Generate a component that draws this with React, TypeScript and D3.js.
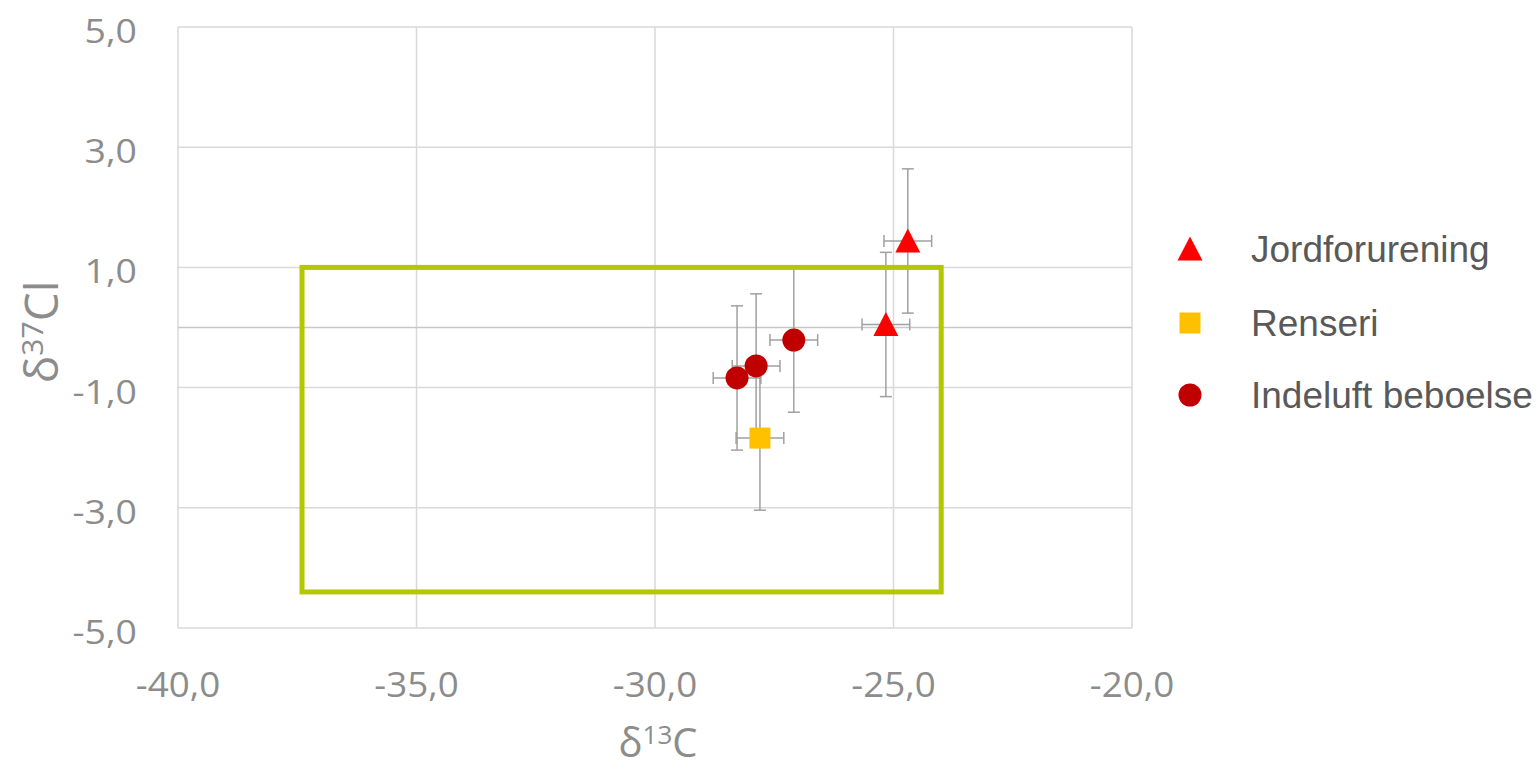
import React from 'react';
import * as d3 from 'd3';

// values
const seriesNames = ['Jordforurening', 'Renseri', 'Indeluft beboelse'];
const jordX = [-24.7, -25.16];
const jordY = [1.44, 0.05];
const renseriX = [-27.8];
const renseriY = [-1.84];
const indeluftX = [-28.28, -27.88, -27.09];
const indeluftY = [-0.84, -0.64, -0.21];
const errX = 0.5;
const errY = 1.2;
const xTicks = [-40, -35, -30, -25, -20];
const yTicks = [5, 3, 1, -1, -3, -5];
const boxX = [-37.4, -24.0];
const boxY = [1.0, -4.4];

const W = 1538;
const H = 772;

const locale = d3.formatLocale({
  decimal: ',',
  thousands: '.',
  grouping: [3],
  currency: ['', ''],
  minus: '-',
});
const fmt = locale.format('.1f');

const x = d3.scaleLinear().domain([-40, -20]).range([178, 1132]);
const y = d3.scaleLinear().domain([-5, 5]).range([628, 27]);

const gridColor = '#d9d9d9';
const axisText = '#8c8c8c';
const errColor = '#a0a0a0';

const triPath = 'M0,-12.5 L12.5,11.5 L-12.5,11.5 Z';

type Pt = { x: number; y: number };

const zip = (xs: number[], ys: number[]): Pt[] => xs.map((v, i) => ({ x: v, y: ys[i] }));

const series = [
  { name: seriesNames[0], pts: zip(jordX, jordY), color: '#ff0000', shape: 'tri' },
  { name: seriesNames[1], pts: zip(renseriX, renseriY), color: '#ffc000', shape: 'sq' },
  { name: seriesNames[2], pts: zip(indeluftX, indeluftY), color: '#c00000', shape: 'circ' },
];

const Marker = ({ shape, color, cx, cy }: { shape: string; color: string; cx: number; cy: number }) => {
  if (shape === 'tri') return <path d={triPath} transform={`translate(${cx},${cy})`} fill={color} />;
  if (shape === 'sq') return <rect x={cx - 10.5} y={cy - 10.5} width={21} height={21} fill={color} />;
  return <circle cx={cx} cy={cy} r={11.5} fill={color} />;
};

const ErrorBars = ({ p }: { p: Pt }) => {
  const cx = x(p.x);
  const cy = y(p.y);
  const x0 = x(p.x - errX);
  const x1 = x(p.x + errX);
  const y0 = y(p.y + errY);
  const y1 = y(p.y - errY);
  const c = 6;
  return (
    <g stroke={errColor} strokeWidth={1.5} fill="none">
      <line x1={x0} x2={x1} y1={cy} y2={cy} />
      <line x1={x0} x2={x0} y1={cy - c} y2={cy + c} />
      <line x1={x1} x2={x1} y1={cy - c} y2={cy + c} />
      <line x1={cx} x2={cx} y1={y0} y2={y1} />
      <line x1={cx - c} x2={cx + c} y1={y0} y2={y0} />
      <line x1={cx - c} x2={cx + c} y1={y1} y2={y1} />
    </g>
  );
};

export default function App() {
  const legendY = [249, 323, 395];
  return (
    <svg
      width={W}
      height={H}
      style={{ position: 'absolute', left: 0, top: 0, background: '#fff' }}
    >
      {/* grid */}
      <g stroke={gridColor} strokeWidth={1.5}>
        {xTicks.map((t) => (
          <line key={'gx' + t} x1={x(t)} x2={x(t)} y1={y(5)} y2={y(-5)} />
        ))}
        {yTicks.map((t) => (
          <line key={'gy' + t} x1={x(-40)} x2={x(-20)} y1={y(t)} y2={y(t)} />
        ))}
      </g>
      <line x1={x(-40)} x2={x(-20)} y1={y(0)} y2={y(0)} stroke="#c8c8c8" strokeWidth={1.5} />

      {/* tick labels */}
      <g fill={axisText} fontFamily="'Open Sans', sans-serif" fontSize={32}>
        {yTicks.map((t) => (
          <text
            key={'ly' + t}
            transform={`translate(137,${y(t) + 16}) scale(1.17,1)`}
            textAnchor="end"
          >
            {fmt(t)}
          </text>
        ))}
      </g>
      <g fill={axisText} fontFamily="'Open Sans', sans-serif" fontSize={35}>
        {xTicks.map((t) => (
          <text
            key={'lx' + t}
            transform={`translate(${x(t)},697) scale(1.05,1)`}
            textAnchor="middle"
          >
            {fmt(t)}
          </text>
        ))}
      </g>

      {/* axis titles */}
      <text
        x={658}
        y={757}
        textAnchor="middle"
        fill={axisText}
        fontFamily="'Open Sans', sans-serif"
        fontSize={40}
      >
        δ<tspan fontSize={26} dy={-13}>13</tspan>
        <tspan dy={13}>C</tspan>
      </text>
      <text
        transform="translate(58,332) rotate(-90)"
        textAnchor="middle"
        fill={axisText}
        fontFamily="'Open Sans', sans-serif"
        fontSize={46}
      >
        δ<tspan fontSize={30} dy={-15}>37</tspan>
        <tspan dy={15}>Cl</tspan>
      </text>

      {/* error bars */}
      {series.map((s) => s.pts.map((p, i) => <ErrorBars key={s.name + i} p={p} />))}

      {/* box */}
      <rect
        x={x(boxX[0])}
        y={y(boxY[0])}
        width={x(boxX[1]) - x(boxX[0])}
        height={y(boxY[1]) - y(boxY[0])}
        fill="none"
        stroke="#b4c800"
        strokeWidth={5}
      />

      {/* markers */}
      {series.map((s) =>
        s.pts.map((p, i) => (
          <Marker key={s.name + 'm' + i} shape={s.shape} color={s.color} cx={x(p.x)} cy={y(p.y)} />
        ))
      )}

      {/* legend */}
      {series.map((s, i) => (
        <g key={'lg' + s.name}>
          <Marker shape={s.shape} color={s.color} cx={1190} cy={legendY[i]} />
          <text
            x={1251}
            y={legendY[i] + 13}
            fill="#595959"
            fontFamily="'Liberation Sans', Arial, sans-serif"
            fontSize={37}
          >
            {s.name}
          </text>
        </g>
      ))}
    </svg>
  );
}
